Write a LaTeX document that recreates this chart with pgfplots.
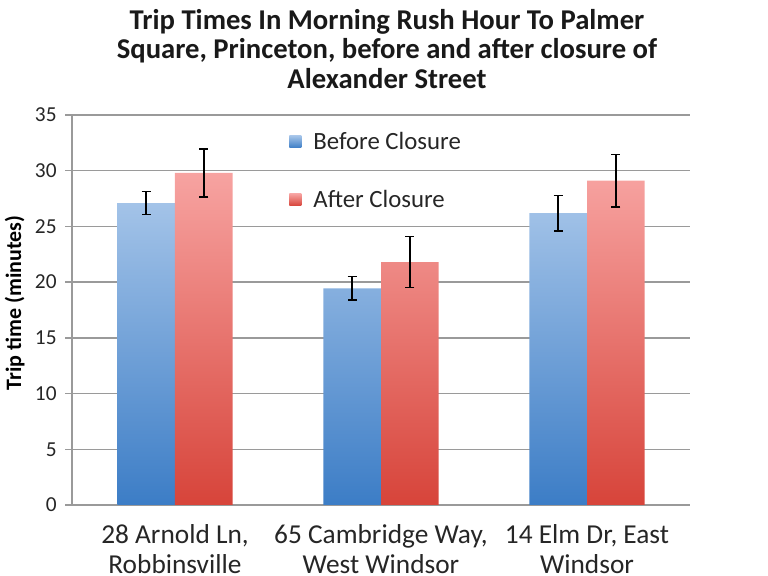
\documentclass[border=0pt]{standalone}
\usepackage{pgfplots}
\pgfplotsset{compat=1.18}
\usepackage{fontspec}
\setmainfont{Carlito}

\definecolor{bluetop}{HTML}{A3C3E8}
\definecolor{bluebot}{HTML}{3C7DC6}
\definecolor{redtop}{HTML}{F7A3A1}
\definecolor{redbot}{HTML}{D7443A}
\definecolor{gridgray}{HTML}{9A9A9A}

\begin{document}
\begin{tikzpicture}
\begin{axis}[
    name=ax,
    scale only axis,
    width=463.5pt, height=292.5pt,
    ybar=0pt, bar width=0.28,
    xmin=-0.5, xmax=2.5,
    ymin=0, ymax=35,
    ytick={0,5,...,35},
    xtick={0,1,2},
    xticklabels={{28 Arnold Ln,\\Robbinsville},{65 Cambridge Way,\\West Windsor},{14 Elm Dr, East\\Windsor}},
    axis x line*=bottom, axis y line*=left,
    axis line style={gridgray, line width=1pt, -},
    ymajorgrids, grid style={gridgray, line width=1pt},
    tick align=outside,
    major x tick style={draw=none},
    y tick style={gridgray, line width=1pt},
    major tick length=5pt,
    extra x ticks={-0.5,0.5,1.5,2.5},
    extra x tick labels={},
    extra x tick style={grid=none, major tick length=6pt, tick style={draw=gridgray, line width=1pt}},
    /pgf/number format/assume math mode=true,
    yticklabel style={font=\fontsize{16}{18}\selectfont, text=black!85, xshift=-3pt},
    xticklabel style={font=\fontsize{20.5}{22.5}\selectfont, align=center, text=black!85, yshift=-6pt},
    ylabel={\bfseries Trip time (minutes)},
    ylabel style={font=\fontsize{16.5}{18}\selectfont, at={(axis description cs:-0.0928,0.518)}, anchor=center},
    legend style={draw=none, fill=none, at={(0.345,0.97)}, anchor=north west,
        font=\fontsize{18.6}{21}\selectfont, row sep=25pt, text=black!85},
    legend cell align=left,
    error bars/y dir=both, error bars/y explicit,
    error bars/error bar style={black, line width=1pt},
    error bars/error mark options={rotate=90, mark size=3.4pt, black, line width=1pt},
]
\addplot[draw=none, top color=bluetop, bottom color=bluebot,
    legend image code/.code={\path[top color=bluetop, bottom color=bluebot] (0pt,-4.5pt) rectangle (9pt,4.5pt); \path (9pt,0pt) -- (16pt,0pt);}]
coordinates {
    (0, 27.1)  +- (0, 1.05)
    (1, 19.45) +- (0, 1.05)
    (2, 26.2)  +- (0, 1.6)
};
\addplot[draw=none, top color=redtop, bottom color=redbot,
    legend image code/.code={\path[top color=redtop, bottom color=redbot] (0pt,-4.5pt) rectangle (9pt,4.5pt); \path (9pt,0pt) -- (16pt,0pt);}]
coordinates {
    (0, 29.8)  +- (0, 2.15)
    (1, 21.8)  +- (0, 2.3)
    (2, 29.1)  +- (0, 2.35)
};
\legend{Before Closure, After Closure}
\end{axis}
\node[font=\bfseries\fontsize{21.5}{22}\selectfont, align=center, text=black!90]
    at ([xshift=4.5pt, yshift=49.5pt]ax.north)
    {Trip Times In Morning Rush Hour To Palmer\\Square, Princeton, before and after closure of\\Alexander Street};
\pgfresetboundingbox
\path[use as bounding box] ([xshift=-54pt, yshift=-53.25pt]ax.south west) rectangle ([xshift=58.5pt, yshift=86.25pt]ax.north east);
\end{tikzpicture}
\end{document}
